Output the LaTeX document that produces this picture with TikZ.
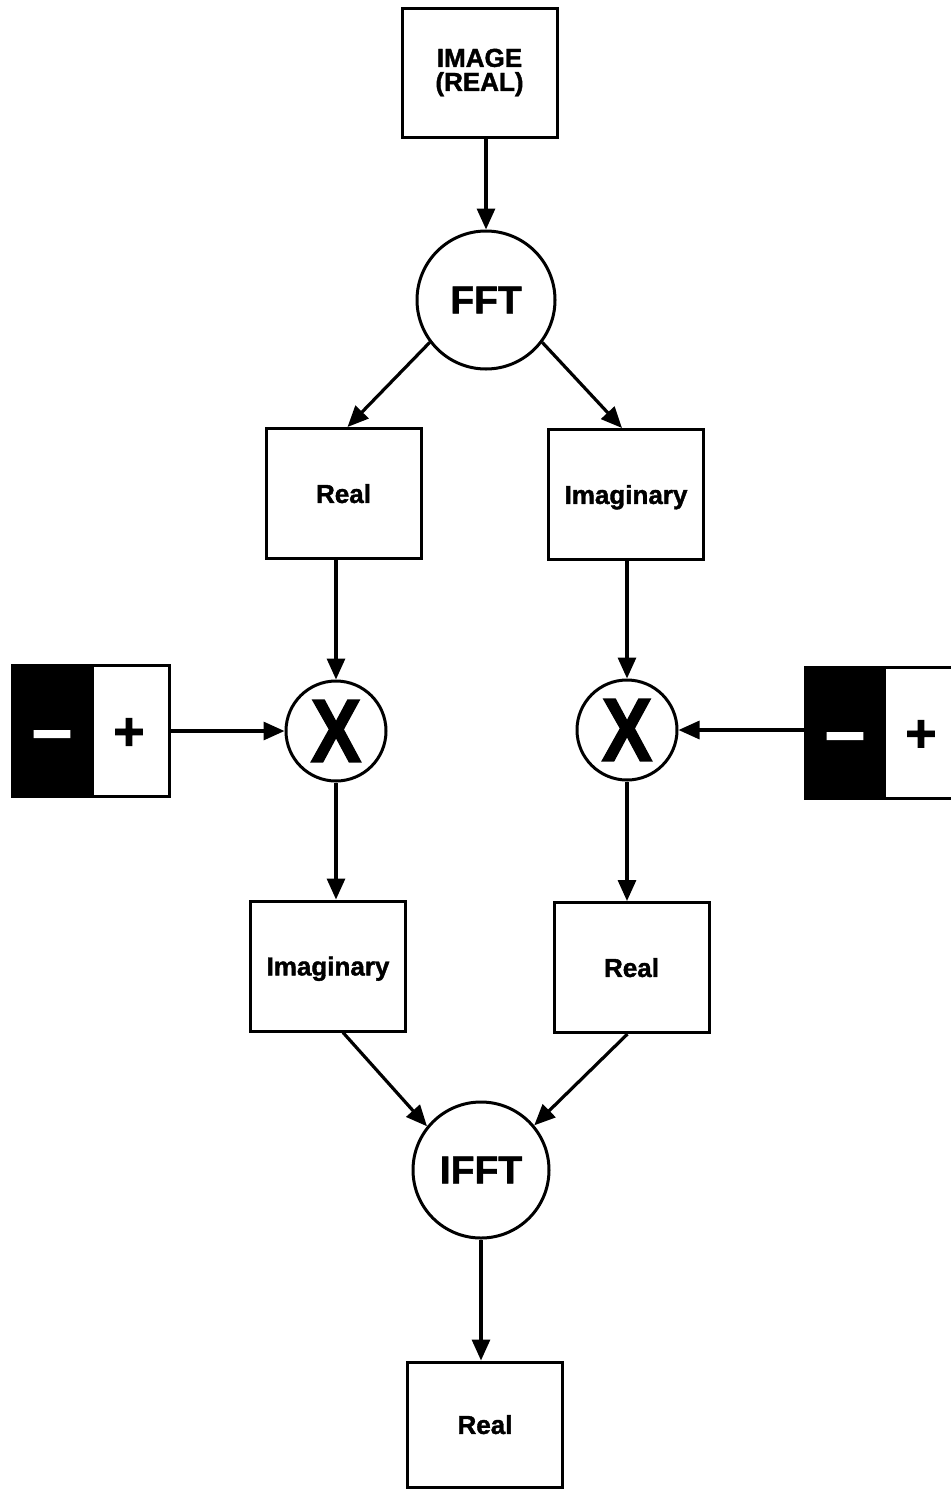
\documentclass[tikz,border=0pt]{standalone}
\usepackage{fontspec}
\setmainfont{Liberation Sans}[BoldFeatures={FakeBold=1.5}]
\usetikzlibrary{arrows.meta,calc}
\tikzset{
  x=0.5pt, y=-0.5pt,
  every node/.style={inner sep=0pt},
  box/.style={draw, line width=1.5pt, minimum width=77.5pt, minimum height=65pt,
    font=\bfseries\fontsize{13}{12}\selectfont, text depth=0pt},
  titlebox/.style={draw, line width=1.5pt, minimum width=77.5pt, minimum height=64.5pt,
    font=\bfseries\fontsize{13}{12}\selectfont, align=center},
  bigop/.style={draw, circle, line width=1.5pt, minimum size=#1, text depth=0pt,
    font=\bfseries\fontsize{19.5}{19}\selectfont},
  mult/.style={draw, circle, line width=1.5pt, minimum size=50pt, text depth=0pt,
    font=\bfseries\fontsize{45}{45}\selectfont},
  signbox/.style={draw, line width=1.5pt, minimum width=78.5pt, minimum height=65.5pt,
    path picture={\fill[black] (path picture bounding box.north west) rectangle
      ([xshift=40.5pt]path picture bounding box.south west);}},
  minussign/.style={text=white, font=\bfseries\fontsize{36}{36}\selectfont},
  plussign/.style={text=black, font=\bfseries\fontsize{27}{27}\selectfont, text depth=0pt},
  conn/.style={line width=1.6pt, -{Triangle[length=10.5pt,width=9pt]}}
}
\begin{document}
\begin{tikzpicture}
\useasboundingbox (0,0) rectangle (951,1489);
\clip (0,0) rectangle (951,1489);
% nodes
\node[titlebox] (img) at (479.5,72.5) {IMAGE\\(REAL)};
\node[bigop=69pt] (fft) at (486,300) {FFT};
\node[box] (realA) at (343.5,493.5) {Real};
\node[box] (imagA) at (626,494.5) {Imaginary};
\node[mult] (xA) at (336,731) {\scalebox{0.85}[1]{X}};
\node[mult] (xB) at (627,730) {\scalebox{0.85}[1]{X}};
\node[signbox] (signA) at (91,731) {};
\node[signbox] (signB) at (883.5,733) {};
\node[minussign] (minusA) at (52,742) {–};
\node[plussign] (plusA) at (129,734) {+};
\node[minussign] (minusB) at (845,744) {–};
\node[plussign] (plusB) at (921,736) {+};
\node[box] (imagB) at (328,966) {Imaginary};
\node[box] (realB) at (631.5,967.5) {Real};
\node[bigop=68pt] (ifft) at (481,1170) {IFFT};
\node[box, minimum height=62.5pt] (out) at (485,1424.5) {Real};
% connectors
\draw[conn] (fft.north |- img.south) -- (fft.north);
\draw[conn] (fft.217) -- ([xshift=2pt]realA.north);
\draw[conn] (fft.-37) -- ([xshift=-2pt]imagA.north);
\draw[conn] (xA.north |- realA.south) -- (xA.north);
\draw[conn] (xB.north |- imagA.south) -- (xB.north);
\draw[conn] (signA.east |- xA.west) -- (xA.west);
\draw[conn] (signB.west |- xB.east) -- (xB.east);
\draw[conn] (xA.south) -- (xA.south |- imagB.north);
\draw[conn] (xB.south) -- (xB.south |- realB.north);
\draw[conn] ([xshift=7.5pt]imagB.south) -- (ifft.141);
\draw[conn] ([xshift=-2pt]realB.south) -- (ifft.40);
\draw[conn] (ifft.south) -- (ifft.south |- out.north);
\end{tikzpicture}
\end{document}
